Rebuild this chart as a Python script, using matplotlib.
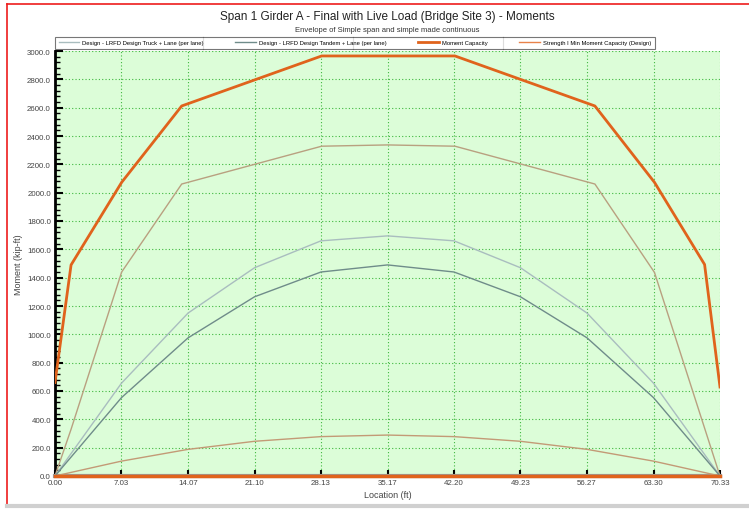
import numpy as np
import matplotlib
matplotlib.use("Agg")
import matplotlib.pyplot as plt
from matplotlib.lines import Line2D
from matplotlib.ticker import MultipleLocator, FormatStrFormatter

plt.rcParams['font.family'] = ['Liberation Sans', 'DejaVu Sans']

# station ticks along the span (ft)
stations = [0.00, 7.03, 14.07, 21.10, 28.13, 35.17, 42.20, 49.23, 56.27, 63.30, 70.33]

# live load envelopes at the tenth points (kip-ft)
truck = [0, 655, 1150, 1470, 1660, 1695, 1660, 1470, 1150, 655, 0]
tandem = [0, 553, 975, 1265, 1440, 1490, 1440, 1265, 975, 553, 0]
low_curve = [0, 105, 188, 245, 278, 289, 278, 245, 188, 105, 0]

# moment capacity (kink points)
cap_x = [0.0, 1.7, 7.05, 13.4, 28.2, 42.3, 57.1, 63.4, 68.7, 70.33]
cap_y = [660, 1490, 2073, 2612, 2965, 2965, 2612, 2073, 1493, 628]

# upper tan envelope
tan_x = [0.0, 1.7, 7.05, 13.4, 28.2, 35.17, 42.3, 57.1, 63.4, 70.33]
tan_y = [0, 330, 1440, 2061, 2328, 2337, 2328, 2061, 1437, 0]

# min capacity along the bottom
min_x = [0.0, 70.33]
min_y = [0, 0]

legend_labels = ["Design - LRFD Design Truck + Lane (per lane)",
                 "Design - LRFD Design Tandem + Lane (per lane)",
                 "Moment Capacity",
                 "Strength I Min Moment Capacity (Design)"]

W, H = 749, 510
fig = plt.figure(figsize=(W / 100, H / 100), dpi=100)
ax = fig.add_axes([55 / W, 1 - 477 / H, 665 / W, 425 / H])
ax.set_facecolor('#dcfdd8')

c_truck = '#a9bdbf'
c_tandem = '#6f8c8a'
c_cap = '#e0631c'
c_tan = '#b9a080'
c_low = '#c39a76'
c_min = '#e8824a'

ax.plot(stations, low_curve, color=c_low, lw=1.0, zorder=3)
ax.plot(tan_x, tan_y, color=c_tan, lw=1.0, zorder=3)
ax.plot(stations, truck, color=c_truck, lw=1.0, zorder=3)
ax.plot(stations, tandem, color=c_tandem, lw=1.0, zorder=3)
ax.plot(cap_x, cap_y, color=c_cap, lw=2.0, zorder=4)
ax.plot(min_x, min_y, color=c_cap, lw=2.5, zorder=4, clip_on=False)

ax.set_xlim(0, 70.33)
ax.set_ylim(0, 3000)
ax.set_xticks(stations)
ax.set_xticklabels(["%.2f" % s for s in stations])
ax.yaxis.set_major_locator(MultipleLocator(200))
ax.yaxis.set_minor_locator(MultipleLocator(40))
ax.yaxis.set_major_formatter(FormatStrFormatter('%.1f'))

ax.grid(True, which='major', color='#3fb83f', linestyle=(0, (1.0, 2.0)), lw=0.8)
for s in ['top', 'right']:
    ax.spines[s].set_visible(False)
ax.spines['left'].set_linewidth(2.0)
ax.spines['left'].set_color('black')
ax.spines['bottom'].set_linewidth(3.0)
ax.spines['bottom'].set_color('#9a9a9a')

ax.tick_params(axis='y', which='major', direction='in', length=6, width=1.5,
               labelsize=5.7, labelcolor='#444444', pad=3)
ax.tick_params(axis='y', which='minor', direction='in', length=3.5, width=1.0)
ax.tick_params(axis='x', which='major', direction='in', length=4, width=1.5,
               labelsize=5.7, labelcolor='#444444', pad=2)

ax.set_ylabel("Moment (kip-ft)", fontsize=6.5, color='#444444', labelpad=3)
ax.set_xlabel("Location (ft)", fontsize=6.5, color='#444444', labelpad=3)

fig.text(0.5 * (55 + 720) / W, 1 - 17 / H,
         "Span 1 Girder A - Final with Live Load (Bridge Site 3) - Moments",
         ha='center', va='center', fontsize=8.5, color='#222222')
fig.text(0.5 * (55 + 720) / W, 1 - 31 / H,
         "Envelope of Simple span and simple made continuous",
         ha='center', va='center', fontsize=5.5, color='#333333')

# legend row
handles = [Line2D([], [], color=c_truck, lw=1.0),
           Line2D([], [], color=c_tandem, lw=1.0),
           Line2D([], [], color=c_cap, lw=2.0),
           Line2D([], [], color=c_min, lw=1.0)]
leg = fig.legend(handles, legend_labels, ncol=4, mode='expand',
                 bbox_to_anchor=(55 / W, 1 - 50 / H, 600 / W, 12 / H),
                 loc='lower left', fontsize=4.2, frameon=True, fancybox=False,
                 handlelength=3.5, handletextpad=0.6, borderpad=0.6,
                 borderaxespad=0, columnspacing=0.5)
leg.get_frame().set_edgecolor('#555555')
leg.get_frame().set_linewidth(0.8)

fig.canvas.draw()
bb = leg.get_frame().get_window_extent().transformed(fig.transFigure.inverted())
for xs in (203, 353, 503):
    fig.add_artist(Line2D([xs / W, xs / W], [bb.y0, bb.y1],
                          color='#555555', lw=0.8))

# frame of the window
fig.add_artist(Line2D([7 / W, 1], [1 - 5 / H, 1 - 5 / H], color='#ee1c1c', lw=1.2))
fig.add_artist(Line2D([7 / W, 7 / W], [1 - 505 / H, 1 - 5 / H], color='#ee1c1c', lw=1.2))
fig.add_artist(Line2D([7 / W, 1], [1 - 507 / H, 1 - 507 / H], color='#d0d0d0', lw=3))

fig.savefig("out.png", dpi=100)
